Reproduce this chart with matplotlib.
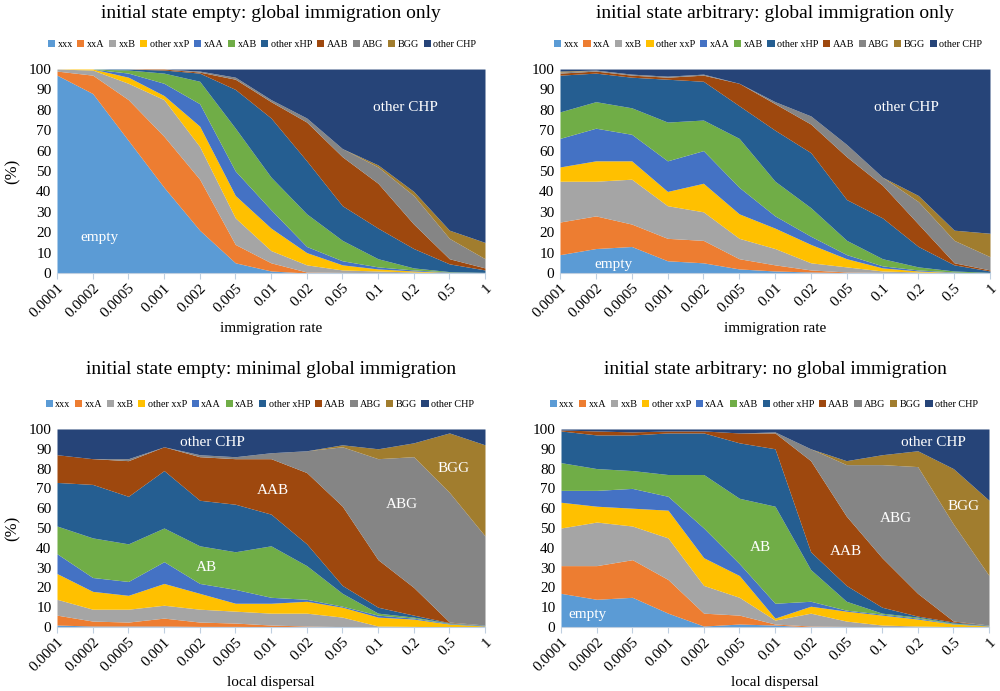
import numpy as np
import matplotlib
matplotlib.use("Agg")
import matplotlib.pyplot as plt

plt.rcParams['font.family'] = ['Liberation Serif', 'DejaVu Serif']

rates = ['0.0001', '0.0002', '0.0005', '0.001', '0.002', '0.005', '0.01',
         '0.02', '0.05', '0.1', '0.2', '0.5', '1']
series = ['xxx', 'xxA', 'xxB', 'other xxP', 'xAA', 'xAB', 'other xHP',
          'AAB', 'ABG', 'BGG', 'other CHP']
colors = ['#5B9BD5', '#ED7D31', '#A5A5A5', '#FFC000', '#4472C4', '#70AD47',
          '#255E91', '#9E480E', '#858585', '#A17D2E', '#264478']

# cumulative upper edge (%) of each band; other CHP fills to 100
empty_global = [
    [97, 88, 65, 42, 21, 5, 1, 0, 0, 0, 0, 0, 0],
    [99, 97, 85, 67, 46, 14, 5, 0.5, 0.3, 0.2, 0.1, 0, 0],
    [100, 99.5, 93, 85, 62, 27, 11, 4, 1.5, 1, 0.5, 0.2, 0],
    [100, 100, 96, 87, 72, 38, 22, 10, 4, 2, 1, 0.3, 0.1],
    [100, 100, 98, 93, 83, 50, 31, 13, 6, 3, 1.5, 0.5, 0.2],
    [100, 100, 99.5, 98, 94, 71, 47, 29, 16, 7, 2.5, 0.7, 0.3],
    [100, 100, 100, 99.5, 98, 90, 76, 55, 33, 22, 12, 4.5, 1.5],
    [100, 100, 100, 100, 98.5, 95, 84, 74, 57, 44, 24, 7, 2.5],
    [100, 100, 100, 100, 99, 96, 85, 76, 61, 52, 38, 17, 7],
    [100, 100, 100, 100, 99, 96, 85, 76, 61, 53, 40, 21, 15],
]
arbitrary_global = [
    [9, 12, 13, 6, 5, 2, 1, 0.5, 0.2, 0, 0, 0, 0],
    [25, 28, 24, 17, 16, 7, 4, 1.5, 0.5, 0.3, 0.2, 0.1, 0],
    [45, 45, 46, 33, 30, 17, 12, 5, 3, 1, 0.5, 0.2, 0],
    [52, 55, 55, 40, 44, 29, 22, 14, 7, 2.5, 1, 0.3, 0],
    [66, 71, 68, 55, 60, 42, 28, 18, 9, 3.5, 1.5, 0.5, 0],
    [79, 84, 81, 74, 75, 66, 45, 32, 16, 7, 3, 1, 0.3],
    [97, 98, 96, 95, 94, 82, 70, 59, 36, 27, 13, 4, 1],
    [98, 99, 97, 96, 97, 93, 83, 73, 57, 43, 24, 5, 1.5],
    [98.5, 99.5, 97.5, 96.5, 97.5, 93, 84, 77, 63, 47, 35, 16, 8],
    [99, 99.5, 97.5, 96.5, 97.5, 93, 84, 77, 63, 47, 38, 21, 19.5],
]
empty_local = [
    [1, 0.5, 0.5, 0.5, 0.3, 0.3, 0.2, 0, 0, 0, 0, 0, 0],
    [6, 3, 2.5, 4.5, 2.5, 2, 1, 0.5, 0.2, 0, 0, 0, 0],
    [14, 9, 9, 11, 9, 8, 7, 7, 5, 0.5, 0.3, 0.1, 0],
    [27, 18, 16, 22, 17, 12, 12, 13, 10, 5, 4, 1.5, 0.5],
    [37, 25, 23, 33, 22, 19, 15, 14, 10.5, 6, 4.5, 1.8, 0.7],
    [51, 45, 42, 50, 41, 38, 41, 31, 17, 7, 5, 2, 0.8],
    [73, 72, 66, 79, 64, 62, 57, 42, 21, 10, 6, 2.2, 1],
    [87, 85, 84, 91, 86, 85, 85, 78, 61, 34, 20, 2.5, 1],
    [87, 85, 85, 91, 87, 86, 88, 89, 91, 85, 86, 68, 46],
    [87, 85, 85, 91, 87, 86, 88, 89, 92, 90, 93, 98, 92],
]
arbitrary_local = [
    [17, 14, 15, 7, 0.5, 1.5, 1, 0, 0, 0, 0, 0, 0],
    [31, 31, 34, 24, 7, 6, 1.5, 0.5, 0.3, 0, 0, 0, 0],
    [50, 53, 51, 45, 21, 15, 3.5, 7, 3, 1, 0.5, 0.2, 0],
    [63, 61, 60, 59, 35, 26, 4.5, 10.5, 8, 6, 4, 1.5, 0.5],
    [69, 69, 70, 66, 50, 32, 12, 13, 8.5, 6.5, 4.5, 1.7, 0.7],
    [83, 80, 79, 77, 77, 65, 61, 29, 13, 7, 5, 2, 0.8],
    [99, 97, 97, 98, 98, 93, 90, 38, 21, 10, 5.5, 2.5, 1],
    [99.5, 99, 98.5, 99, 99, 98, 98, 84, 56, 35, 17, 3, 1],
    [99.5, 99, 98.5, 99, 99, 98, 98.5, 90, 82, 82, 81, 52, 26],
    [99.5, 99, 98.5, 99, 99, 98, 98.5, 90, 84, 87, 89, 80, 64],
]

# title, data, xlabel, axes rect, y-label?, title y (px), legend x (axes frac), notes
panels = [
    ('initial state empty: global immigration only', empty_global,
     'immigration rate', [0.057, 0.6049, 0.428, 0.2952], True, 14, 0.479,
     [('other CHP', 9.76, 81), ('empty', 1.2, 17.6)]),
    ('initial state arbitrary: global immigration only', arbitrary_global,
     'immigration rate', [0.560, 0.6049, 0.430, 0.2952], False, 14, 0.484,
     [('other CHP', 9.66, 81), ('empty', 1.48, 4)]),
    ('initial state empty: minimal global immigration', empty_local,
     'local dispersal', [0.057, 0.0926, 0.428, 0.2866], True, 369, 0.474,
     [('other CHP', 4.35, 93.4), ('AAB', 6.06, 69), ('AB', 4.2, 30),
      ('ABG', 9.67, 62), ('BGG', 11.13, 80)]),
    ('initial state arbitrary: no global immigration', arbitrary_local,
     'local dispersal', [0.561, 0.0926, 0.428, 0.2866], False, 369, 0.474,
     [('other CHP', 10.44, 93), ('ABG', 9.4, 55), ('AAB', 7.98, 38),
      ('AB', 5.6, 40), ('BGG', 11.3, 61), ('empty', 0.75, 6.5)]),
]

fig = plt.figure(figsize=(10, 6.91), dpi=100)
x = np.arange(len(rates))

for title, cum, xlabel, rect, show_ylabel, ty_px, legx, notes in panels:
    ax = fig.add_axes(rect)
    edges = [np.zeros(len(rates))] + [np.array(c, float) for c in cum] + [np.full(len(rates), 100.0)]
    for i, name in enumerate(series):
        ax.fill_between(x, edges[i], edges[i + 1], color=colors[i], lw=0, label=name)
    ax.set_xlim(0, len(rates) - 1)
    ax.set_ylim(0, 100)
    ax.set_yticks(range(0, 101, 10))
    ax.set_xticks(x)
    ax.set_xticklabels(rates, rotation=45, ha='right', rotation_mode='anchor')
    ax.tick_params(axis='y', length=0, labelsize=11, pad=4)
    ax.tick_params(axis='x', length=4, color='#BFCFE0', labelsize=11, pad=2)
    for s in ['top', 'right', 'left']:
        ax.spines[s].set_visible(False)
    ax.spines['bottom'].set_color('#BFCFE0')
    ax.set_xlabel(xlabel, fontsize=11, labelpad=1)
    if show_ylabel:
        ax.set_ylabel('(%)', fontsize=12, labelpad=6)
    fig.text(rect[0] + rect[2] / 2, 1 - ty_px / 691, title, fontsize=14,
             ha='center', va='center')
    ax.legend(loc='lower center', bbox_to_anchor=(legx, 1.08), ncol=11, frameon=False,
              fontsize=7.3, handlelength=0.7, handleheight=0.7, handletextpad=0.25,
              columnspacing=0.45, borderaxespad=0)
    for txt, tx, ty in notes:
        ax.text(tx, ty, txt, color='white', fontsize=11, ha='center', va='center')

fig.savefig('out.png', dpi=100)
